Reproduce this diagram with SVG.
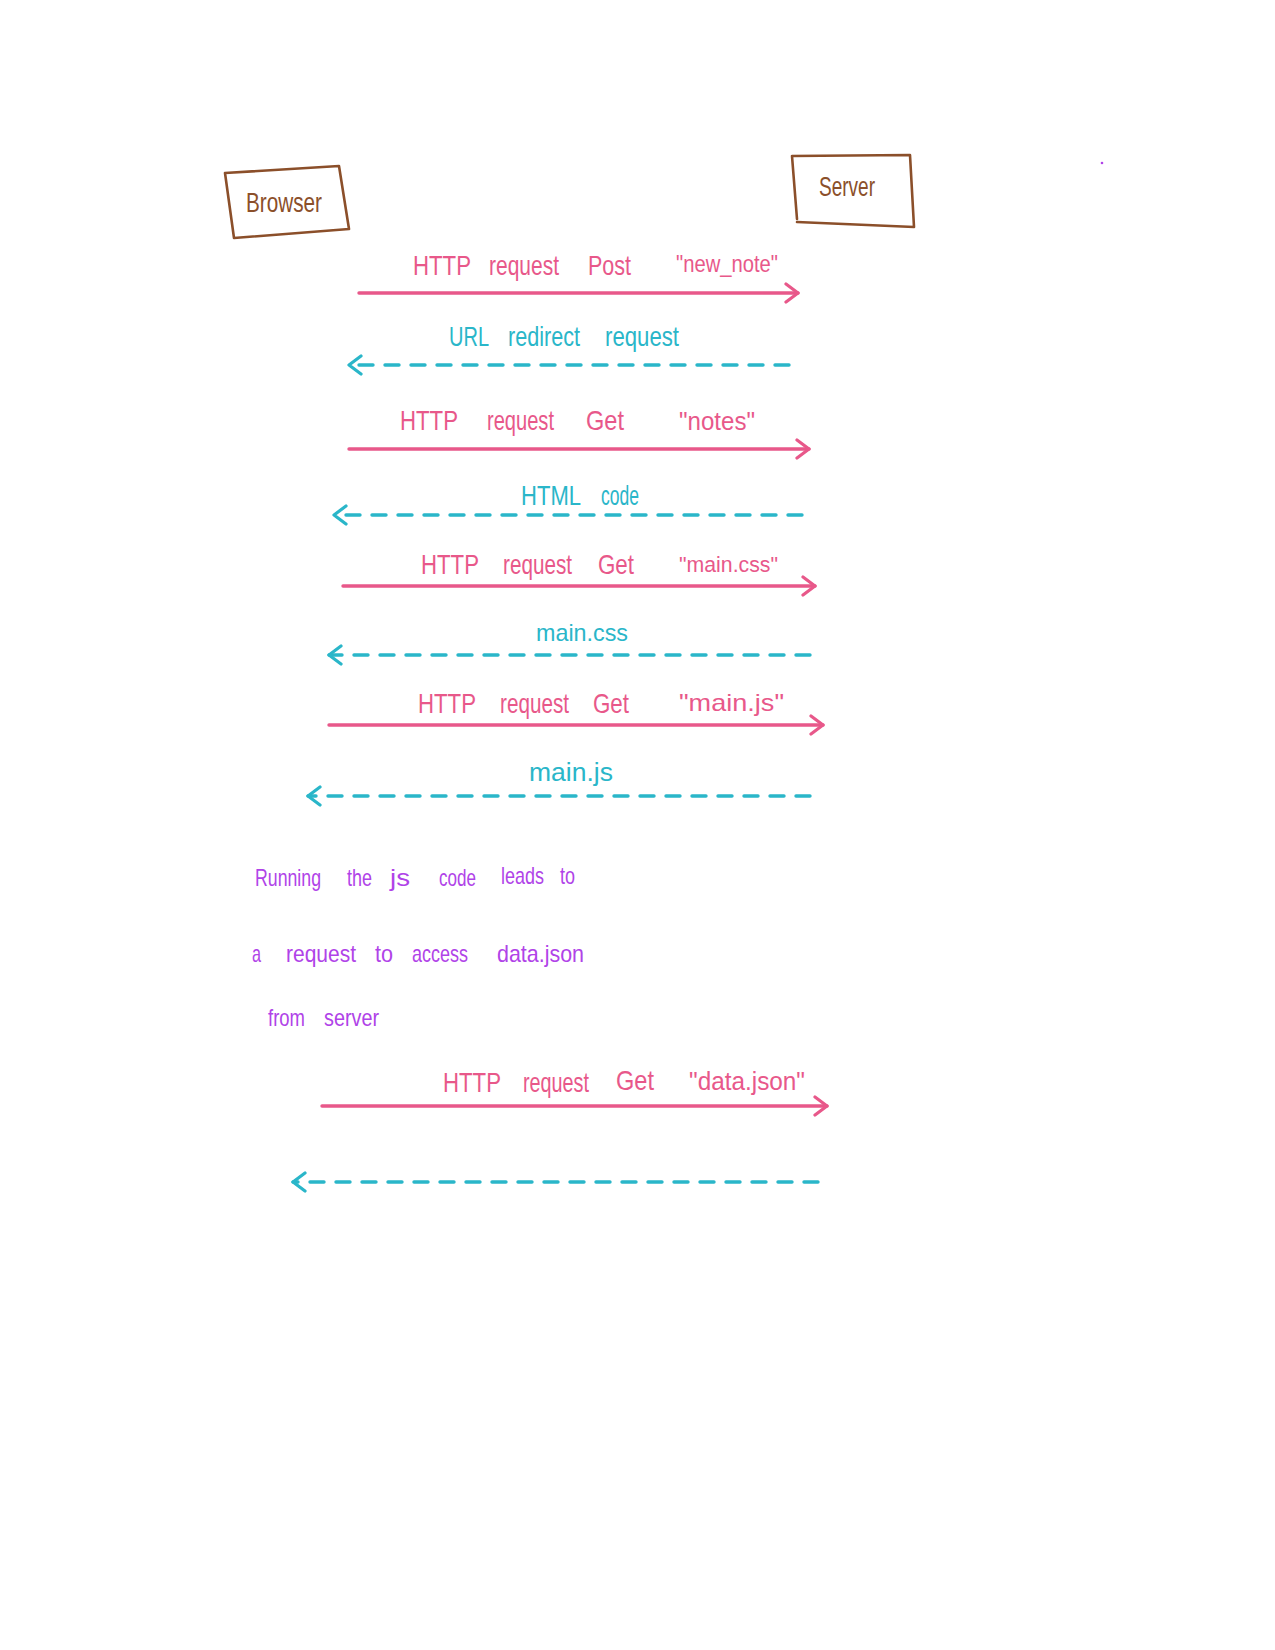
<svg xmlns="http://www.w3.org/2000/svg" width="1275" height="1650" viewBox="0 0 1275 1650">
<style>
.bg{fill:#ffffff}
.box{fill:none;stroke:#8b4f2a;stroke-width:2.6;stroke-linejoin:round;stroke-linecap:round}
.bt{font-family:"Liberation Sans",Arial,sans-serif;font-size:28px;fill:#8b4f2a}
.req{fill:none;stroke:#e8588a;stroke-width:3.4;stroke-linecap:round}
.res{fill:none;stroke:#2ab6c9;stroke-width:3.4;stroke-dasharray:14 12;stroke-linecap:round}
.pt{font-family:"Liberation Sans",Arial,sans-serif;font-size:28px;fill:#e8588a}
.ct{font-family:"Liberation Sans",Arial,sans-serif;font-size:28px;fill:#2ab6c9}
.vt{font-family:"Liberation Sans",Arial,sans-serif;font-size:24px;fill:#b043e8}
</style>
<defs>
<marker id="ahp" viewBox="0 0 16 22" refX="14" refY="11" markerWidth="16" markerHeight="22" markerUnits="userSpaceOnUse" orient="auto">
<path d="M2,2 L14,11 L2,20" fill="none" stroke="#e8588a" stroke-width="3.2" stroke-linecap="round" stroke-linejoin="round" stroke-dasharray="none"/>
</marker>
<marker id="ahc" viewBox="0 0 16 22" refX="14" refY="11" markerWidth="16" markerHeight="22" markerUnits="userSpaceOnUse" orient="auto">
<path d="M2,2 L14,11 L2,20" fill="none" stroke="#2ab6c9" stroke-width="3.2" stroke-linecap="round" stroke-linejoin="round" stroke-dasharray="none"/>
</marker>
</defs>
<rect class="bg" x="0" y="0" width="1275" height="1650"/>

<g id="browser">
<path class="box" d="M225,173 L339,166 L349,229 L234,238 Z"/>
<text class="bt" x="246" y="212" textLength="76" lengthAdjust="spacingAndGlyphs">Browser</text>
</g>

<g id="server">
<path class="box" d="M792,156 L910,155 L914,227 L797,222 M792,156 L797,219"/>
<text class="bt" x="819" y="196" textLength="56" lengthAdjust="spacingAndGlyphs">Server</text>
</g>

<circle cx="1102" cy="163" r="1.3" fill="#b043e8"/>

<g id="connectors">
<line class="req" x1="359" y1="293" x2="798" y2="293" marker-end="url(#ahp)"/>
<line class="res" x1="789" y1="365" x2="349" y2="365" marker-end="url(#ahc)"/>
<line class="req" x1="349" y1="449" x2="809" y2="449" marker-end="url(#ahp)"/>
<line class="res" x1="802" y1="515" x2="334" y2="515" marker-end="url(#ahc)"/>
<line class="req" x1="343" y1="586" x2="815" y2="586" marker-end="url(#ahp)"/>
<line class="res" x1="810" y1="655" x2="329" y2="655" marker-end="url(#ahc)"/>
<line class="req" x1="329" y1="725" x2="823" y2="725" marker-end="url(#ahp)"/>
<line class="res" x1="810" y1="796" x2="308" y2="796" marker-end="url(#ahc)"/>
<line class="req" x1="322" y1="1106" x2="827" y2="1106" marker-end="url(#ahp)"/>
<line class="res" x1="818" y1="1182" x2="293" y2="1182" marker-end="url(#ahc)"/>
</g>

<g id="label1">
<text class="pt" x="413" y="275" textLength="58" lengthAdjust="spacingAndGlyphs">HTTP</text>
<text class="pt" x="489" y="275" textLength="70" lengthAdjust="spacingAndGlyphs">request</text>
<text class="pt" x="588" y="275" textLength="43" lengthAdjust="spacingAndGlyphs">Post</text>
<text class="pt" x="676" y="272" textLength="102" lengthAdjust="spacingAndGlyphs" style="font-size:24px">"new_note"</text>
</g>

<g id="label2">
<text class="ct" x="449" y="346" textLength="40" lengthAdjust="spacingAndGlyphs">URL</text>
<text class="ct" x="508" y="346" textLength="72" lengthAdjust="spacingAndGlyphs">redirect</text>
<text class="ct" x="605" y="346" textLength="74" lengthAdjust="spacingAndGlyphs">request</text>
</g>

<g id="label3">
<text class="pt" x="400" y="430" textLength="58" lengthAdjust="spacingAndGlyphs">HTTP</text>
<text class="pt" x="487" y="430" textLength="67" lengthAdjust="spacingAndGlyphs">request</text>
<text class="pt" x="586" y="430" textLength="38" lengthAdjust="spacingAndGlyphs">Get</text>
<text class="pt" x="679" y="430" textLength="76" lengthAdjust="spacingAndGlyphs" style="font-size:25px">"notes"</text>
</g>

<g id="label4">
<text class="ct" x="521" y="505" textLength="60" lengthAdjust="spacingAndGlyphs">HTML</text>
<text class="ct" x="601" y="505" textLength="38" lengthAdjust="spacingAndGlyphs">code</text>
</g>

<g id="label5">
<text class="pt" x="421" y="574" textLength="58" lengthAdjust="spacingAndGlyphs">HTTP</text>
<text class="pt" x="503" y="574" textLength="69" lengthAdjust="spacingAndGlyphs">request</text>
<text class="pt" x="598" y="574" textLength="36" lengthAdjust="spacingAndGlyphs">Get</text>
<text class="pt" x="679" y="572" textLength="99" lengthAdjust="spacingAndGlyphs" style="font-size:22px">"main.css"</text>
</g>

<g id="label6">
<text class="ct" x="536" y="641" textLength="92" lengthAdjust="spacingAndGlyphs" style="font-size:24px">main.css</text>
</g>

<g id="label7">
<text class="pt" x="418" y="713" textLength="58" lengthAdjust="spacingAndGlyphs">HTTP</text>
<text class="pt" x="500" y="713" textLength="69" lengthAdjust="spacingAndGlyphs">request</text>
<text class="pt" x="593" y="713" textLength="36" lengthAdjust="spacingAndGlyphs">Get</text>
<text class="pt" x="679" y="711" textLength="105" lengthAdjust="spacingAndGlyphs" style="font-size:24px">"main.js"</text>
</g>

<g id="label8">
<text class="ct" x="529" y="781" textLength="84" lengthAdjust="spacingAndGlyphs" style="font-size:26px">main.js</text>
</g>

<g id="note">
<text class="vt" x="255" y="886" textLength="66" lengthAdjust="spacingAndGlyphs">Running</text>
<text class="vt" x="347" y="886" textLength="25" lengthAdjust="spacingAndGlyphs">the</text>
<text class="vt" x="390" y="886" textLength="20" lengthAdjust="spacingAndGlyphs">js</text>
<text class="vt" x="439" y="886" textLength="37" lengthAdjust="spacingAndGlyphs">code</text>
<text class="vt" x="501" y="884" textLength="43" lengthAdjust="spacingAndGlyphs">leads</text>
<text class="vt" x="560" y="884" textLength="15" lengthAdjust="spacingAndGlyphs">to</text>
<text class="vt" x="252" y="962" textLength="9" lengthAdjust="spacingAndGlyphs">a</text>
<text class="vt" x="286" y="962" textLength="70" lengthAdjust="spacingAndGlyphs">request</text>
<text class="vt" x="375" y="962" textLength="18" lengthAdjust="spacingAndGlyphs">to</text>
<text class="vt" x="412" y="962" textLength="56" lengthAdjust="spacingAndGlyphs">access</text>
<text class="vt" x="497" y="962" textLength="87" lengthAdjust="spacingAndGlyphs">data.json</text>
<text class="vt" x="268" y="1026" textLength="37" lengthAdjust="spacingAndGlyphs">from</text>
<text class="vt" x="324" y="1026" textLength="55" lengthAdjust="spacingAndGlyphs">server</text>
</g>

<g id="label10">
<text class="pt" x="443" y="1092" textLength="58" lengthAdjust="spacingAndGlyphs">HTTP</text>
<text class="pt" x="523" y="1092" textLength="66" lengthAdjust="spacingAndGlyphs">request</text>
<text class="pt" x="616" y="1090" textLength="38" lengthAdjust="spacingAndGlyphs">Get</text>
<text class="pt" x="689" y="1090" textLength="116" lengthAdjust="spacingAndGlyphs" style="font-size:26px">"data.json"</text>
</g>
</svg>
